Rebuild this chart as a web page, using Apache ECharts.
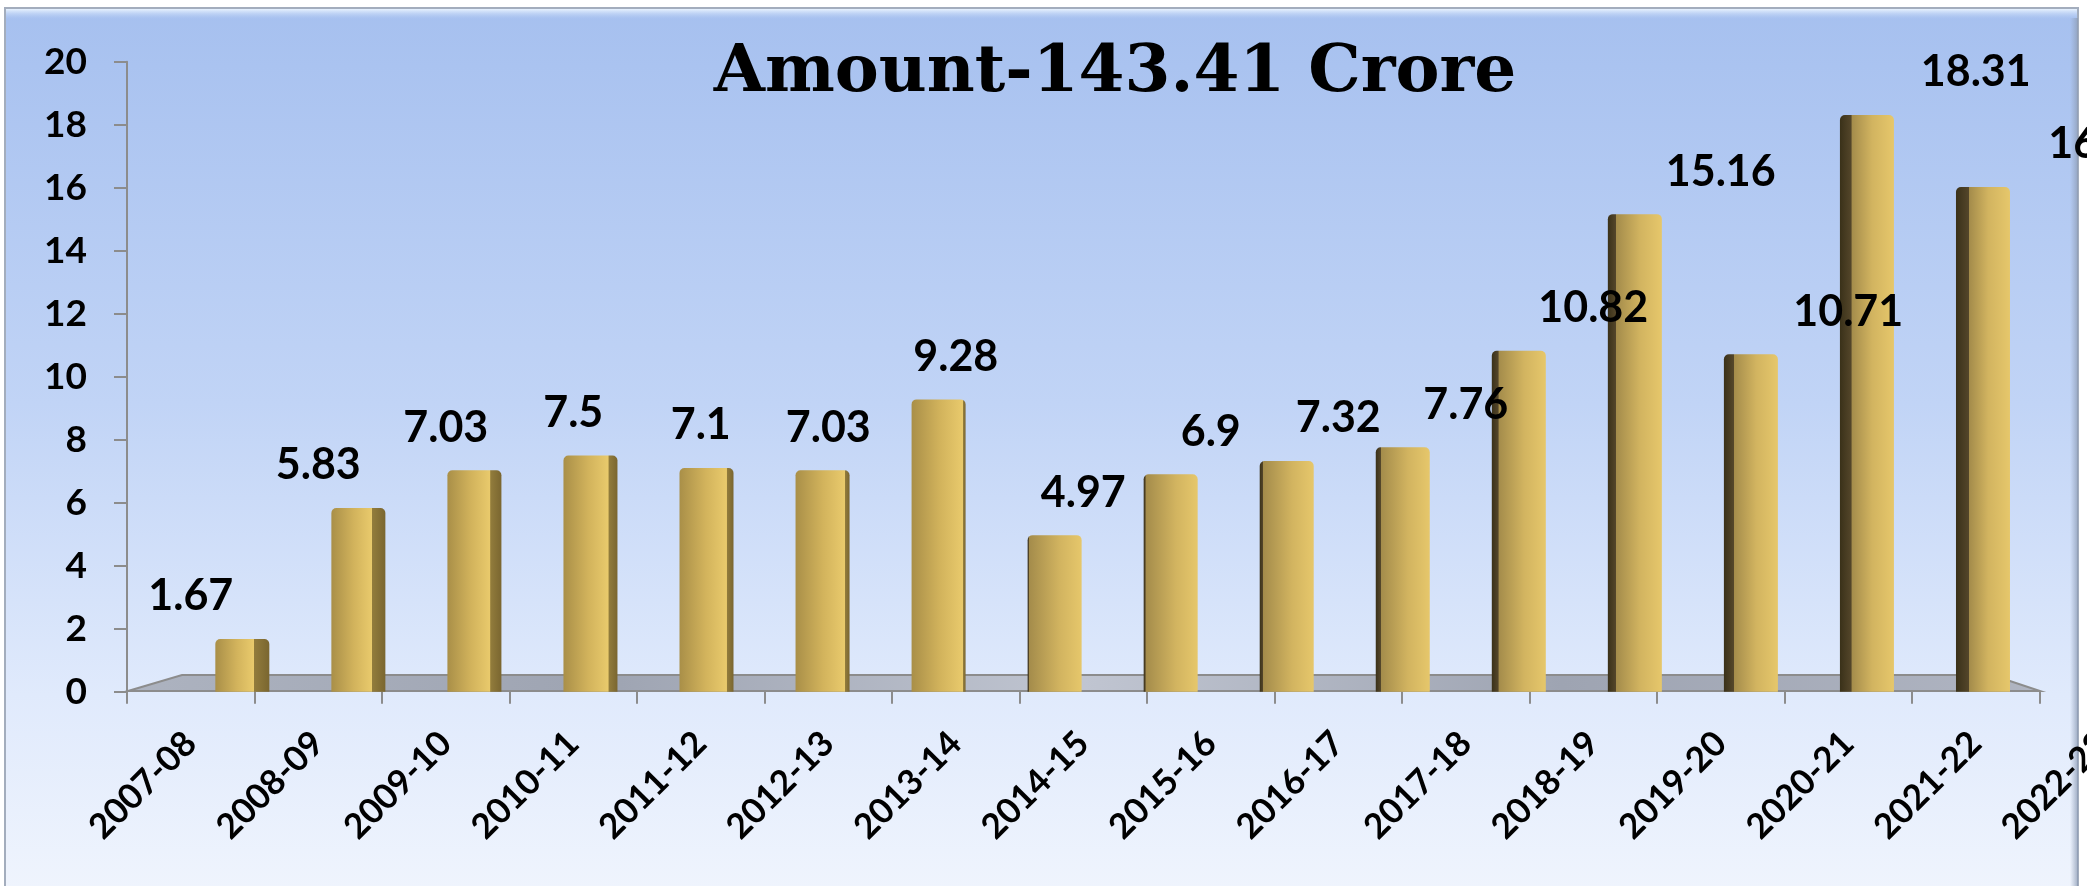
<!DOCTYPE html>
<html>
<head>
<meta charset="utf-8">
<script src="https://cdn.jsdelivr.net/npm/echarts@6/dist/echarts.min.js"></script>
<style>
  html, body { margin: 0; padding: 0; background: #ffffff; }
  #chart { width: 2087px; height: 886px; }
</style>
</head>
<body>
<div id="chart"></div>
<script>
// data
const years = ['2007-08', '2008-09', '2009-10', '2010-11', '2011-12', '2012-13', '2013-14', '2014-15',
  '2015-16', '2016-17', '2017-18', '2018-19', '2019-20', '2020-21', '2021-22', '2022-23'];
const amounts = [1.67, 5.83, 7.03, 7.5, 7.1, 7.03, 9.28, 4.97, 6.9, 7.32, 7.76, 10.82, 15.16, 10.71, 18.31, 16.02];
const yTicks = [0, 2, 4, 6, 8, 10, 12, 14, 16, 18, 20];
const titleText = 'Amount-143.41 Crore';

const mid = 7;
// gold bar, side face shifts with position (fake excel 3d look)
function barColor(i) {
  if (i < mid) {
    const s = 1 - (mid - i) * 0.04;
    return new echarts.graphic.LinearGradient(0, 0, 1, 0, [
      { offset: 0, color: '#a98f48' },
      { offset: s * 0.55, color: '#d2b35c' },
      { offset: s - 0.01, color: '#e9ca6c' },
      { offset: s, color: '#927c3c' },
      { offset: 1, color: '#7a6630' }
    ]);
  }
  const s = Math.max((i - mid) * 0.03, 0.02);
  return new echarts.graphic.LinearGradient(0, 0, 1, 0, [
    { offset: 0, color: '#3a3119' },
    { offset: s, color: '#54462a' },
    { offset: s + 0.01, color: '#a48c4b' },
    { offset: 0.6, color: '#d2b460' },
    { offset: 1, color: '#e6c76b' }
  ]);
}

const barData = amounts.map((v, i) => ({
  value: v,
  itemStyle: { color: barColor(i), borderRadius: [5, 5, 0, 0] }
}));

const font = 'Lato, "Open Sans", sans-serif';

const chart = echarts.init(document.getElementById('chart'));
const option = {
  animation: false,
  title: {
    text: titleText,
    left: 1110,
    top: 36,
    textAlign: 'center',
    textStyle: {
      fontFamily: '"DejaVu Serif", serif',
      fontWeight: 'bold',
      fontSize: 66,
      color: '#000'
    }
  },
  graphic: [
    {
      type: 'rect', z: -10, silent: true,
      shape: { x: 5, y: 8, width: 2073, height: 880 },
      style: {
        fill: new echarts.graphic.LinearGradient(0, 0, 0, 1, [
          { offset: 0, color: '#a6c0ef' },
          { offset: 0.45, color: '#c1d4f6' },
          { offset: 0.78, color: '#e0eafc' },
          { offset: 1, color: '#eff4fd' }
        ]),
        stroke: '#a3adbd', lineWidth: 2
      }
    },
    {
      type: 'rect', z: -9, silent: true,
      shape: { x: 6, y: 9, width: 2071, height: 10 },
      style: {
        fill: new echarts.graphic.LinearGradient(0, 0, 0, 1, [
          { offset: 0, color: 'rgba(235,245,255,0.95)' },
          { offset: 1, color: 'rgba(190,210,245,0)' }
        ])
      }
    },
    {
      type: 'rect', z: -9, silent: true,
      shape: { x: 2070, y: 18, width: 8, height: 868 },
      style: {
        fill: new echarts.graphic.LinearGradient(0, 0, 1, 0, [
          { offset: 0, color: 'rgba(150,165,190,0)' },
          { offset: 1, color: 'rgba(140,155,180,0.8)' }
        ])
      }
    },
    {
      // floor of the 3d chart
      type: 'polygon', z: 1, silent: true,
      shape: { points: [[128, 691], [182, 675], [1992, 675], [2040, 691]] },
      style: {
        fill: new echarts.graphic.LinearGradient(0, 0, 1, 0, [
          { offset: 0, color: '#adb3c0' },
          { offset: 0.25, color: '#9ea4b2' },
          { offset: 0.5, color: '#c0c5d1' },
          { offset: 0.75, color: '#9ea4b2' },
          { offset: 1, color: '#b0b5c2' }
        ]),
        stroke: '#8c8c8c', lineWidth: 2
      }
    }
  ],
  grid: [
    { left: 127, right: -80, top: 61.7, bottom: 194.3, outerBoundsMode: 'none' },
    { left: 184.3, right: 46, top: 61.7, bottom: 194.3, outerBoundsMode: 'none' }
  ],
  xAxis: [
    {
      type: 'category',
      gridIndex: 0,
      data: years,
      axisLine: { show: false },
      axisTick: { show: true, length: 12, lineStyle: { color: '#8c8c8c', width: 2 } },
      axisLabel: {
        rotate: 45,
        margin: 46,
        interval: 0,
        fontFamily: font,
        fontWeight: 'bold',
        fontSize: 35,
        color: '#000'
      }
    },
    {
      type: 'category',
      gridIndex: 1,
      data: years,
      show: false
    }
  ],
  yAxis: [
    {
      type: 'value',
      gridIndex: 0,
      min: yTicks[0],
      max: yTicks[yTicks.length - 1],
      interval: yTicks[1] - yTicks[0],
      axisLine: { show: true, lineStyle: { color: '#8c8c8c', width: 2 } },
      axisTick: { show: true, length: 13, lineStyle: { color: '#8c8c8c', width: 2 } },
      splitLine: { show: false },
      axisLabel: {
        margin: 40,
        fontFamily: font,
        fontWeight: 'bold',
        fontSize: 37,
        color: '#000'
      }
    },
    {
      type: 'value',
      gridIndex: 1,
      min: yTicks[0],
      max: yTicks[yTicks.length - 1],
      show: false
    }
  ],
  series: [
    {
      // the gold bars, sitting on the back of the floor
      type: 'bar',
      xAxisIndex: 1,
      yAxisIndex: 1,
      barWidth: 54,
      z: 3,
      data: barData
    },
    {
      // value labels follow the front axis like in the excel picture
      type: 'bar',
      xAxisIndex: 0,
      yAxisIndex: 0,
      barWidth: 1,
      z: 4,
      itemStyle: { color: 'transparent' },
      label: {
        show: true,
        position: 'top',
        distance: 21,
        fontFamily: font,
        fontWeight: 'bold',
        fontSize: 43,
        color: '#000'
      },
      data: amounts
    }
  ]
};
chart.setOption(option);
</script>
</body>
</html>
